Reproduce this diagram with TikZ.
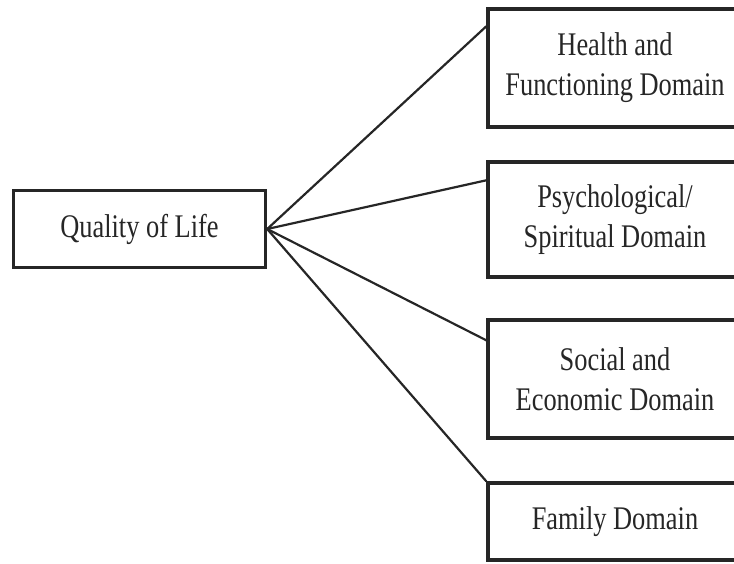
\documentclass[tikz,border=0pt]{standalone}
\usepackage{fontspec}
\setmainfont{Liberation Serif}[FakeStretch=0.8]
\usepackage{tikz}

\begin{document}
\begin{tikzpicture}[x=1pt,y=-1pt,
    box/.style={draw=black!85,line width=3.4pt,align=center,inner sep=0pt,
        minimum width=254pt,text=black!85,font=\fontsize{33}{40}\selectfont},
    link/.style={draw=black!85,line width=2.2pt}]
    \useasboundingbox (0,0) rectangle (734,563);
    \clip (0,0) rectangle (734,563);
    % root
    \node[box,minimum width=252pt,minimum height=77pt] (qol) at (139.5,229) {Quality of Life};
    % domains
    \node[box,minimum height=118pt] (health) at (615,68) {Health and\\Functioning Domain};
    \node[box,minimum height=115pt] (psych) at (615,219.5) {Psychological/\\Spiritual Domain};
    \node[box,minimum height=118pt] (social) at (615,379) {Social and\\Economic Domain};
    \node[box,minimum height=77pt] (family) at (615,521.5) {Family Domain};
    \draw[link] (qol.east) -- ([yshift=-19pt]health.north west);
    \draw[link] (qol.east) -- ([yshift=-20pt]psych.north west);
    \draw[link] (qol.east) -- ([yshift=-22pt]social.north west);
    \draw[link] (qol.east) -- (family.north west);
\end{tikzpicture}
\end{document}
